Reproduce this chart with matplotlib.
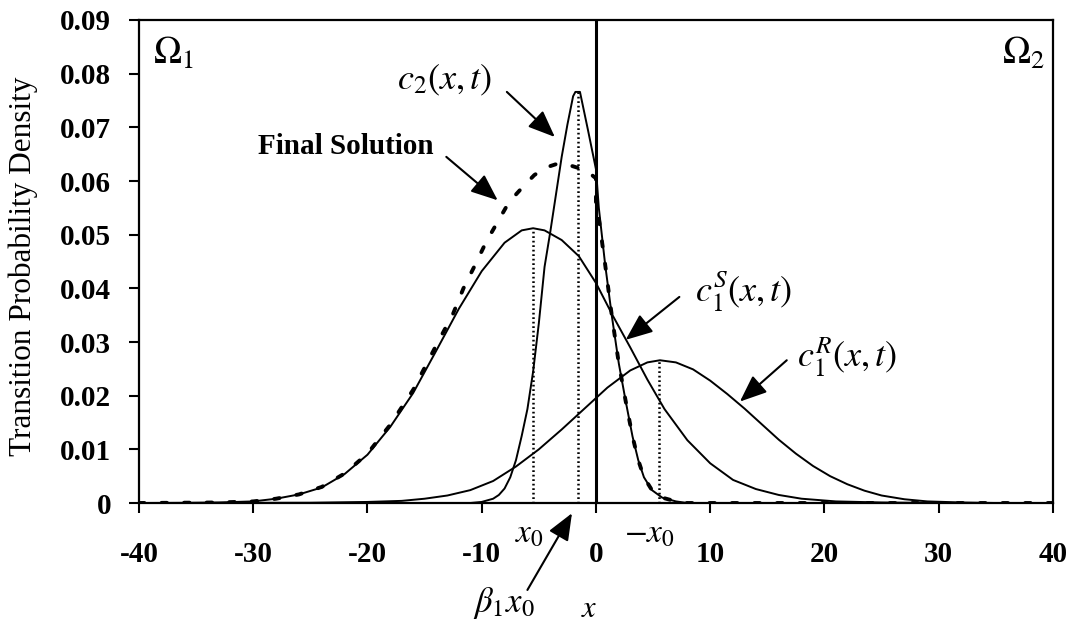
import numpy as np
import matplotlib.pyplot as plt

plt.rcParams['font.family'] = ['Liberation Serif', 'DejaVu Serif']
plt.rcParams['mathtext.fontset'] = 'stix'

# ---------------- data ----------------
x_s = [-40, -36, -33, -30, -28, -26, -24, -22, -20, -18, -16, -14, -12, -10, -8, -6.5, -5.5,
       -4.5, -3, -1.5, 0, 1.5, 3, 4.5, 6, 8, 10, 12, 14, 16, 18, 21, 25, 30, 40]
c1_s = [0, 0.00003, 0.0001, 0.0003, 0.0008, 0.0016, 0.0029, 0.0054, 0.0090, 0.0142, 0.0205,
        0.0283, 0.0362, 0.0432, 0.0485, 0.0508, 0.0512, 0.0508, 0.0490, 0.0460, 0.0410, 0.0348,
        0.0290, 0.0230, 0.0175, 0.0117, 0.0074, 0.0043, 0.0026, 0.0015, 0.0008, 0.0003, 0.0001,
        0, 0]

x_r = [-40, -25, -20, -17, -15, -13, -11, -9, -7, -5, -3, -1, 1, 3, 4.5, 5.6, 7, 8.5, 10, 11.5,
       13, 14.5, 16, 17.5, 19, 20.5, 22, 23.5, 25, 27, 29, 32, 35, 40]
c1_r = [0, 0.00005, 0.0002, 0.0004, 0.0008, 0.0014, 0.0024, 0.0041, 0.0068, 0.0100, 0.0137,
        0.0176, 0.0215, 0.0247, 0.0262, 0.0266, 0.0262, 0.0249, 0.0228, 0.0203, 0.0176, 0.0147,
        0.0118, 0.0092, 0.0069, 0.0050, 0.0035, 0.0023, 0.0014, 0.0007, 0.0003, 0.0001, 0, 0]

x_2 = [-40, -11, -10, -9, -8.5, -8, -7.5, -7, -6.5, -6, -5.5, -5, -4.5, -4, -3.5, -3, -2.5, -2,
       -1.8, -1.4, -0.7, 0, 0.25, 0.8, 1.4, 2, 2.6, 3.2, 3.7, 4.2, 4.9, 5.8, 7, 8, 40]
c2 = [0, 0, 0.0002, 0.0008, 0.0015, 0.0027, 0.0048, 0.0080, 0.0125, 0.0175, 0.0245, 0.0335,
      0.0440, 0.0505, 0.0575, 0.0645, 0.0705, 0.0758, 0.0766, 0.0766, 0.0695, 0.0622, 0.0550,
      0.0445, 0.0347, 0.0260, 0.0190, 0.0124, 0.0080, 0.0048, 0.0024, 0.0010, 0.0003, 0, 0]

x_f = [-40, -33, -30, -28, -26, -24, -22, -20, -18, -16, -14, -12.5, -11.6, -10.5, -9.6, -8.6,
       -7.6, -6.4, -5.4, -4.4, -3.4, -2.4, -1.5, -0.35, 0, 0, 0.25, 0.8, 1.4, 2, 2.6, 3.2, 3.7,
       4.2, 4.9, 5.8, 7, 8, 40]
final = [0, 0.0001, 0.0003, 0.0008, 0.0016, 0.0030, 0.0055, 0.0092, 0.0146, 0.0211, 0.0293,
         0.0353, 0.0400, 0.0447, 0.0487, 0.0524, 0.0561, 0.0589, 0.0611, 0.0625, 0.0632, 0.0630,
         0.0624, 0.0611, 0.0605, 0.0550, 0.0530, 0.0445, 0.0347, 0.0260, 0.0190, 0.0124, 0.0080,
         0.0048, 0.0024, 0.0010, 0.0003, 0, 0]

x0 = -5.5
beta1_x0 = -1.6

xticks = [-40, -30, -20, -10, 0, 10, 20, 30, 40]
xtick_labels = ['-40', '-30', '-20', '-10', '0', '10', '20', '30', '40']
yticks = [0, 0.01, 0.02, 0.03, 0.04, 0.05, 0.06, 0.07, 0.08, 0.09]
ytick_labels = ['0', '0.01', '0.02', '0.03', '0.04', '0.05', '0.06', '0.07', '0.08', '0.09']

# ---------------- plot ----------------
fig = plt.figure(figsize=(10.74, 6.23), dpi=100)
ax = fig.add_axes([0.1294, 0.1926, 0.8510, 0.7753])

ax.plot(x_s, c1_s, color='black', lw=1.4)
ax.plot(x_r, c1_r, color='black', lw=1.4)
ax.plot(x_2, c2, color='black', lw=1.4)
ax.plot(x_f, final, color='black', lw=2.8, linestyle=(0, (1.4, 4.4)), dash_capstyle='round')

# dotted markers at the peaks
dots = (0, (0.7, 1.1))
ax.plot([x0, x0], [0, max(c1_s)], color='black', lw=1.8, linestyle=dots)
ax.plot([beta1_x0, beta1_x0], [0, max(c2)], color='black', lw=1.8, linestyle=dots)
ax.plot([-x0, -x0], [0, max(c1_r)], color='black', lw=1.8, linestyle=dots)

# interface
ax.axvline(0, color='black', lw=2.2)

ax.set_xlim(-40, 40)
ax.set_ylim(0, 0.09)
ax.set_xticks(xticks)
ax.set_xticklabels(xtick_labels, fontsize=21, fontweight='bold')
ax.set_yticks(yticks)
ax.set_yticklabels(ytick_labels, fontsize=21, fontweight='bold')
ax.tick_params(axis='x', direction='out', length=7, width=1.5, pad=20)
ax.tick_params(axis='y', direction='out', length=7, width=1.5, pad=13)
for sp in ax.spines.values():
    sp.set_linewidth(1.6)

ax.set_ylabel('Transition Probability Density', fontsize=22.5)
ax.yaxis.set_label_coords(-0.111, 0.49)

# region labels
ax.text(-38.8, 0.0836, r'$\Omega_1$', fontsize=27, ha='left', va='center')
ax.text(39.3, 0.0836, r'$\Omega_2$', fontsize=27, ha='right', va='center')

arrow = dict(arrowstyle='-|>,head_length=1.1,head_width=0.45', color='black', lw=1.5,
             mutation_scale=15, shrinkA=0, shrinkB=0)

ax.text(-13.3, 0.0788, r'$c_2(x,t)$', fontsize=26, ha='center', va='center')
ax.annotate('', xy=(-3.6, 0.0682), xytext=(-7.8, 0.0766), arrowprops=arrow)

ax.text(-21.9, 0.0665, 'Final Solution', fontsize=21, fontweight='bold', ha='center', va='center')
ax.annotate('', xy=(-8.6, 0.0564), xytext=(-13.1, 0.0645), arrowprops=arrow)

ax.text(12.9, 0.0393, r'$c_1^S(x,t)$', fontsize=26, ha='center', va='center')
ax.annotate('', xy=(2.6, 0.0304), xytext=(7.3, 0.0384), arrowprops=arrow)

ax.text(22.0, 0.0272, r'$c_1^R(x,t)$', fontsize=26, ha='center', va='center')
ax.annotate('', xy=(12.6, 0.0189), xytext=(16.7, 0.0266), arrowprops=arrow)

# labels below the axis
ax.text(x0 - 0.3, -0.0058, r'$x_0$', fontsize=24, ha='center', va='center')
ax.text(-x0 - 0.8, -0.0058, r'$-x_0$', fontsize=24, ha='center', va='center')
ax.text(-8.1, -0.0186, r'$\beta_1 x_0$', fontsize=25, ha='center', va='center')
ax.annotate('', xy=(-2.1, -0.0019), xytext=(-6.0, -0.0162), arrowprops=arrow,
            annotation_clip=False)
ax.text(-0.6, -0.0198, r'$x$', fontsize=22, ha='center', va='center')

fig.savefig('out.png', dpi=100)
